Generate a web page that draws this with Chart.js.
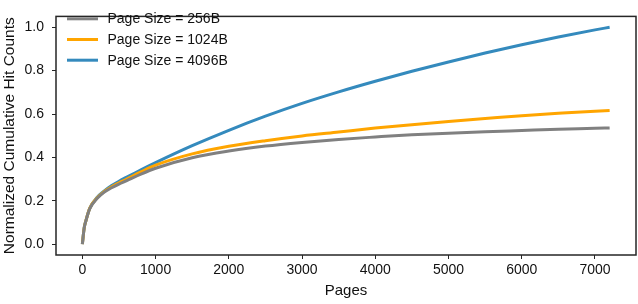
<!DOCTYPE html>
<html>
<head>
<meta charset="utf-8">
<script src="https://cdn.jsdelivr.net/npm/chart.js@4"></script>
<style>
  html, body { margin: 0; padding: 0; background: #fff; }
  #wrap { width: 638px; height: 304px; position: relative; }
</style>
</head>
<body>
<div id="wrap"><canvas id="c" width="638" height="304"></canvas></div>
<script>
// ---- data ----
const pages = [0, 25, 50, 100, 200, 300, 400, 500, 600, 800, 1000, 1500, 2000, 2500, 3000, 3500, 4000, 4500, 5000, 5500, 6000, 6500, 7000, 7200];
const hits256 = [0, 0.075, 0.11, 0.163, 0.21, 0.24, 0.26, 0.277, 0.292, 0.323, 0.350, 0.398, 0.429, 0.452, 0.469, 0.483, 0.494, 0.504, 0.511, 0.518, 0.524, 0.530, 0.534, 0.536];
const hits1024 = [0, 0.075, 0.11, 0.165, 0.213, 0.243, 0.265, 0.283, 0.299, 0.333, 0.364, 0.416, 0.451, 0.477, 0.499, 0.517, 0.535, 0.551, 0.566, 0.579, 0.592, 0.603, 0.613, 0.616];
const hits4096 = [0, 0.075, 0.11, 0.165, 0.215, 0.245, 0.27, 0.29, 0.308, 0.343, 0.376, 0.454, 0.525, 0.590, 0.649, 0.702, 0.751, 0.797, 0.840, 0.881, 0.919, 0.955, 0.988, 1.0];
const seriesLabels = ["Page Size = 256B", "Page Size = 1024B", "Page Size = 4096B"];
const xTickValues = [0, 1000, 2000, 3000, 4000, 5000, 6000, 7000];
const yTickValues = [0.0, 0.2, 0.4, 0.6, 0.8, 1.0];
const xTitle = "Pages";
const yTitle = "Normalized Cumulative Hit Counts";

const colors = ["#808080", "#FFA500", "#348ABD"];
const allSeries = [hits256, hits1024, hits4096];
const FONT = "'Liberation Sans', Arial, sans-serif";

const datasets = allSeries.map((s, k) => ({
  label: seriesLabels[k],
  data: pages.map((p, i) => ({ x: p, y: s[i] })),
  borderColor: colors[k],
  backgroundColor: colors[k],
  borderWidth: 3,
  pointRadius: 0,
  fill: false,
  cubicInterpolationMode: 'monotone',
  tension: 0.4
}));

const framePlugin = {
  id: 'frame',
  afterDraw(chart) {
    const { ctx, chartArea: a } = chart;
    ctx.save();
    ctx.strokeStyle = '#262626';
    ctx.lineWidth = 1.5;
    ctx.strokeRect(a.left, a.top, a.right - a.left, a.bottom - a.top);
    // legend
    ctx.font = "14px " + FONT;
    ctx.textBaseline = 'middle';
    ctx.textAlign = 'left';
    const rowsY = [18.8, 39.5, 60.2];
    chart.data.datasets.forEach((ds, i) => {
      const y = rowsY[i];
      ctx.strokeStyle = ds.borderColor;
      ctx.lineWidth = 3;
      ctx.beginPath();
      ctx.moveTo(67, y);
      ctx.lineTo(98, y);
      ctx.stroke();
      ctx.fillStyle = '#111';
      ctx.fillText(ds.label, 107.5, y + 0.5);
    });
    ctx.restore();
  }
};

new Chart(document.getElementById('c'), {
  type: 'line',
  data: { datasets },
  options: {
    responsive: false,
    animation: false,
    events: [],
    layout: { padding: { left: 0, right: 2, top: 1, bottom: 0 } },
    plugins: { legend: { display: false }, tooltip: { enabled: false } },
    scales: {
      x: {
        type: 'linear',
        min: -360, max: 7560,
        afterBuildTicks: (s) => { s.ticks = xTickValues.map(v => ({ value: v })); },
        afterFit: (s) => { s.height = 49; },
        grid: { drawOnChartArea: false, drawTicks: true, tickLength: 4, tickColor: '#262626', tickWidth: 1 },
        border: { display: false },
        ticks: { padding: 3, color: '#111', font: { family: FONT, size: 14 }, maxRotation: 0, callback: (v) => String(v) },
        title: { display: true, text: xTitle, color: '#111', font: { family: FONT, size: 15 }, padding: { top: 0, bottom: 4 } }
      },
      y: {
        type: 'linear',
        min: -0.05, max: 1.05,
        afterBuildTicks: (s) => { s.ticks = yTickValues.map(v => ({ value: v })); },
        afterFit: (s) => { s.width = 56; },
        grid: { drawOnChartArea: false, drawTicks: true, tickLength: 4, tickColor: '#262626', tickWidth: 1 },
        border: { display: false },
        ticks: { padding: 8, color: '#111', font: { family: FONT, size: 14 }, callback: (v) => Number(v).toFixed(1) },
        title: { display: true, text: yTitle, color: '#111', font: { family: FONT, size: 15.5 }, padding: { top: 0, bottom: 0 } }
      }
    }
  },
  plugins: [framePlugin]
});
</script>
</body>
</html>
